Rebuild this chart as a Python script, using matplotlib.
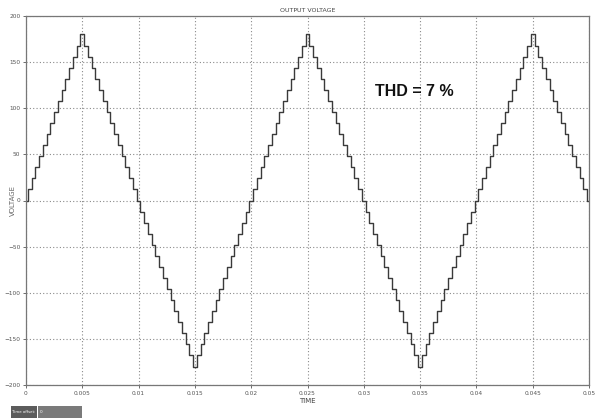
import numpy as np
import matplotlib
matplotlib.use('Agg')
from matplotlib import pyplot as plt
from matplotlib.patches import Rectangle

# staircase levels of one 50 Hz period (V), one value per step
period_levels = [0, 12, 24, 36, 48, 60, 72, 84, 96, 108, 120, 132, 144, 156, 168,
                 180, 168, 156, 144, 132, 120, 108, 96, 84, 72, 60, 48, 36, 24, 12,
                 0, -12, -24, -36, -48, -60, -72, -84, -96, -108, -120, -132, -144, -156, -168,
                 -180, -168, -156, -144, -132, -120, -108, -96, -84, -72, -60, -48, -36, -24, -12]
period = 0.02
t_end = 0.05
x_ticks = [0, 0.005, 0.01, 0.015, 0.02, 0.025, 0.03, 0.035, 0.04, 0.045, 0.05]
x_labels = ['0', '0.005', '0.01', '0.015', '0.02', '0.025', '0.03', '0.035', '0.04', '0.045', '0.05']
y_ticks = [-200, -150, -100, -50, 0, 50, 100, 150, 200]

# step edges: each level is centred on its sample time
n_per = len(period_levels)
dt = period / n_per
n_periods = int(np.ceil(t_end / period)) + 1
levels = np.tile(period_levels, n_periods)
centres = np.arange(len(levels)) * dt
starts = centres - dt / 2
starts[0] = 0.0
keep = starts < t_end - 1e-12
levels = levels[keep]
starts = starts[keep]
edges = np.append(starts, t_end)
vals = np.append(levels, levels[-1])

fig = plt.figure(figsize=(5.98, 4.18), dpi=100)
ax = fig.add_axes([26 / 598, 1 - 385 / 418, 563 / 598, 369 / 418])

ax.step(edges, vals, where='post', color='#3a3a3a', linewidth=1.0)

ax.set_xlim(0, t_end)
ax.set_ylim(-200, 200)
ax.set_xticks(x_ticks)
ax.set_xticklabels(x_labels)
ax.set_yticks(y_ticks)
ax.grid(True, color='#8a8a8a', linestyle=(0, (1, 2)), linewidth=0.8)
for s in ax.spines.values():
    s.set_color('#777777')
    s.set_linewidth(0.9)
ax.tick_params(labelsize=4.2, colors='#555555', length=2, width=0.6, pad=2)

ax.set_title('OUTPUT VOLTAGE', fontsize=4.5, color='#444444', pad=3)
ax.set_xlabel('TIME', fontsize=5, color='#444444', labelpad=2)
ax.set_ylabel('VOLTAGE', fontsize=5, color='#666666')
ax.yaxis.set_label_coords(-0.018, 0.5)

ax.text(0.0345, 118, 'THD = 7 %', fontsize=11.5, fontweight='bold', color='#111111',
        ha='center', va='center', family='Liberation Sans')

# time offset box at bottom left
fig.patches.append(Rectangle((11 / 598, 0), 26 / 598, 12 / 418, transform=fig.transFigure,
                             facecolor='#5c5c5c', edgecolor='none'))
fig.patches.append(Rectangle((38 / 598, 0), 44 / 598, 12 / 418, transform=fig.transFigure,
                             facecolor='#7a7a7a', edgecolor='none'))
fig.text(12 / 598, 6 / 418, 'Time offset:', fontsize=2.8, color='white', va='center')
fig.text(40 / 598, 6 / 418, '0', fontsize=3, color='white', va='center')

fig.savefig('out.png', dpi=100)
